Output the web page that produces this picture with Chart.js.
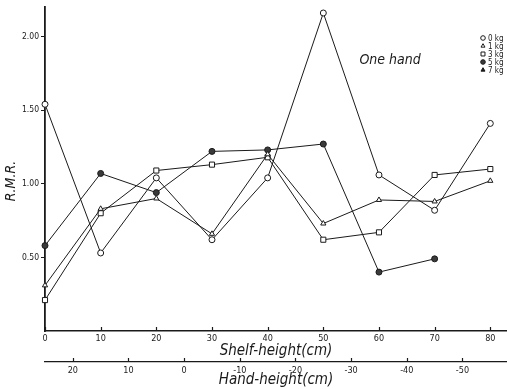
<!DOCTYPE html>
<html>
<head>
<meta charset="utf-8">
<script src="https://cdn.jsdelivr.net/npm/chart.js@4/dist/chart.umd.min.js"></script>
<style>
  html, body { margin: 0; padding: 0; background: #fff; }
  canvas { display: block; }
</style>
</head>
<body>
<canvas id="c" width="507" height="389"></canvas>
<script>
// Shelf heights (cm) at which R.M.R. was measured
const shelfHeights = [0, 10, 20, 30, 40, 50, 60, 70, 80];

// R.M.R. per load carried with one hand
const rmr0kg = [1.54, 0.53, 1.04, 0.62, 1.04, 2.16, 1.06, 0.82, 1.41];
const rmr1kg = [0.31, 0.83, 0.90, 0.66, 1.20, 0.73, 0.89, 0.88, 1.02];
const rmr3kg = [0.21, 0.80, 1.09, 1.13, 1.18, 0.62, 0.67, 1.06, 1.10];
const rmr5kg = [0.58, 1.07, 0.94, 1.22, 1.23, 1.27, 0.40, 0.49, null];
const rmr7kg = [];

// Tick labels
const yTicks = [0.5, 1.0, 1.5, 2.0];
const shelfTicks = [0, 10, 20, 30, 40, 50, 60, 70, 80];
const handTicks = [20, 10, 0, -10, -20, -30, -40, -50];

const seriesLabels = ['0 kg', '1 kg', '3 kg', '5 kg', '7 kg'];

const FONT = '"Liberation Sans Narrow", "DejaVu Sans Condensed", "Liberation Sans", sans-serif';
const INK = '#1a1a1a';

function pts(values) {
  return values.map((v, i) => ({ x: shelfHeights[i], y: v }));
}

function series(label, values, style, fill) {
  return {
    label: label,
    data: pts(values),
    borderColor: INK,
    borderWidth: 1,
    pointStyle: style,
    pointRadius: style === 'rect' ? 3.6 : 3,
    pointBorderWidth: 1,
    pointBorderColor: INK,
    pointBackgroundColor: fill,
    spanGaps: false,
    tension: 0,
    clip: false
  };
}

// Horizontal axes run edge to edge: no extra room for end labels
function fitBottomAxis(height) {
  return s => {
    s.height = height;
    s.paddingLeft = 0;
    s.paddingRight = 0;
  };
}

// Tick marks that point up into the plot on both horizontal axes
const inwardTicks = {
  id: 'inwardTicks',
  afterDraw(chart) {
    const ctx = chart.ctx;
    ctx.save();
    ctx.strokeStyle = INK;
    ctx.lineWidth = 1.2;
    ['x', 'hand'].forEach(id => {
      const s = chart.scales[id];
      s.ticks.forEach(t => {
        const px = Math.round(s.getPixelForValue(t.value)) + 0.5;
        ctx.beginPath();
        ctx.moveTo(px, s.top);
        ctx.lineTo(px, s.top - 4);
        ctx.stroke();
      });
    });
    ctx.restore();
  }
};

// Key of loads in the upper right corner and the "One hand" note
const keyAndNote = {
  id: 'keyAndNote',
  afterDraw(chart) {
    const ctx = chart.ctx;
    const xs = chart.scales.x, ys = chart.scales.y;
    ctx.save();
    ctx.fillStyle = INK;
    ctx.font = 'italic 14px ' + FONT;
    ctx.textAlign = 'center';
    ctx.textBaseline = 'middle';
    ctx.fillText('One hand', xs.getPixelForValue(62), ys.getPixelForValue(1.84));

    ctx.font = '8px ' + FONT;
    ctx.textAlign = 'left';
    const x0 = 483, y0 = 38, step = 8;
    chart.data.datasets.forEach((ds, i) => {
      const y = y0 + i * step;
      ctx.fillStyle = ds.pointBackgroundColor;
      ctx.strokeStyle = INK;
      ctx.lineWidth = 1;
      Chart.helpers.drawPoint(ctx, {
        pointStyle: ds.pointStyle,
        radius: ds.pointStyle === 'rect' ? 2.8 : 2.3,
        borderWidth: 1
      }, x0, y);
      ctx.fillStyle = INK;
      ctx.fillText(ds.label, x0 + 5, y + 0.5);
    });
    ctx.restore();
  }
};

const chart = new Chart(document.getElementById('c'), {
  type: 'line',
  data: {
    datasets: [
      series(seriesLabels[0], rmr0kg, 'circle', '#ffffff'),
      series(seriesLabels[1], rmr1kg, 'triangle', '#ffffff'),
      series(seriesLabels[2], rmr3kg, 'rect', '#ffffff'),
      series(seriesLabels[3], rmr5kg, 'circle', '#3a3a3a'),
      series(seriesLabels[4], rmr7kg, 'triangle', '#1a1a1a')
    ]
  },
  options: {
    responsive: false,
    devicePixelRatio: 1,
    animation: false,
    layout: { autoPadding: false, padding: { top: 4, right: 0, left: 0, bottom: 0 } },
    plugins: {
      legend: { display: false },
      tooltip: { enabled: false }
    },
    scales: {
      x: {
        type: 'linear',
        position: 'bottom',
        weight: 0,
        min: 0,
        max: 83,
        afterBuildTicks: s => { s.ticks = shelfTicks.map(v => ({ value: v })); },
        afterFit: fitBottomAxis(31),
        grid: { display: true, drawOnChartArea: false, drawTicks: false },
        border: { display: true, color: INK, width: 1.5 },
        ticks: {
          color: INK,
          padding: 2,
          maxRotation: 0,
          autoSkip: false,
          font: { family: FONT, size: 9 },
          callback: v => String(v)
        },
        title: {
          display: true,
          text: 'Shelf-height(cm)',
          color: INK,
          font: { family: FONT, size: 15, style: 'italic' },
          padding: { top: 0, bottom: 2 }
        }
      },
      hand: {
        type: 'linear',
        position: 'bottom',
        weight: 1,
        reverse: true,
        min: 25 - 83,
        max: 25,
        afterBuildTicks: s => { s.ticks = handTicks.map(v => ({ value: v })); },
        afterFit: fitBottomAxis(27),
        grid: { display: true, drawOnChartArea: false, drawTicks: false },
        border: { display: true, color: INK, width: 1.2 },
        ticks: {
          color: INK,
          padding: 3,
          maxRotation: 0,
          autoSkip: false,
          font: { family: FONT, size: 9 },
          callback: v => String(v)
        },
        title: {
          display: true,
          text: 'Hand-height(cm)',
          color: INK,
          font: { family: FONT, size: 15, style: 'italic' },
          padding: { top: 0, bottom: 0 }
        }
      },
      y: {
        type: 'linear',
        position: 'left',
        min: 0,
        max: 2.2,
        afterBuildTicks: s => { s.ticks = yTicks.map(v => ({ value: v })); },
        afterFit: s => { s.width = 45; },
        grid: { display: true, drawOnChartArea: false, drawTicks: true, tickLength: 4, color: INK, lineWidth: 1 },
        border: { display: true, color: INK, width: 1.8 },
        ticks: {
          color: INK,
          padding: 2,
          font: { family: FONT, size: 8.5 },
          callback: v => v.toFixed(2)
        },
        title: {
          display: true,
          text: 'R.M.R.      ',
          color: INK,
          font: { family: FONT, size: 14, style: 'italic' },
          padding: { top: 3, bottom: 0 }
        }
      }
    }
  },
  plugins: [inwardTicks, keyAndNote]
});
</script>
</body>
</html>
